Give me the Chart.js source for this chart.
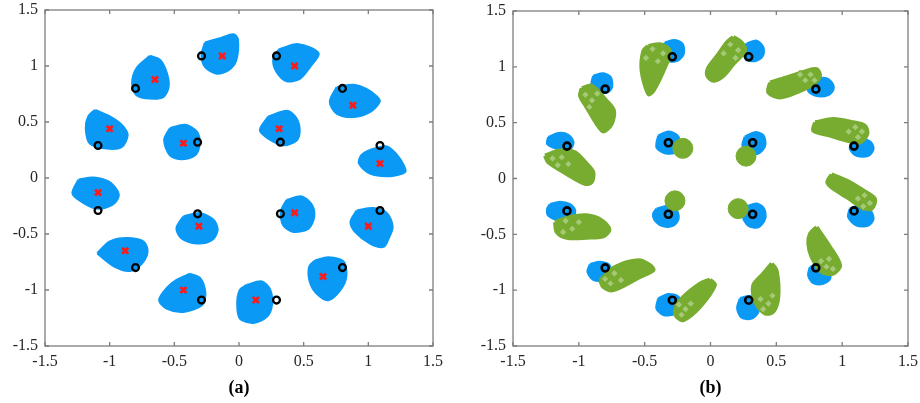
<!DOCTYPE html>
<html>
<head>
<meta charset="utf-8">
<script src="https://cdn.jsdelivr.net/npm/chart.js@4.4.1/dist/chart.umd.min.js"></script>
<style>
  html, body { margin:0; padding:0; background:#fff; }
  #wrap { position:relative; width:920px; height:403px; }
  canvas { position:absolute; top:0; }
</style>
</head>
<body>
<div id="wrap">
  <canvas id="ca" width="460" height="403" style="left:0"></canvas>
  <canvas id="cb" width="460" height="403" style="left:460px"></canvas>
</div>
<script>
// ---------- tick values / labels ----------
const xTickValues = [-1.5, -1, -0.5, 0, 0.5, 1, 1.5];
const xTickLabels = ['-1.5', '-1', '-0.5', '0', '0.5', '1', '1.5'];
const yTickValues = [-1.5, -1, -0.5, 0, 0.5, 1, 1.5];
const yTickLabels = ['-1.5', '-1', '-0.5', '0', '0.5', '1', '1.5'];
const panelTitles = ['(a)', '(b)'];

// ---------- reference constellation (black circles) ----------
const constellation = [
  [-0.29, 1.09], [0.29, 1.09], [-0.8, 0.8], [0.8, 0.8],
  [-1.09, 0.29], [-0.32, 0.32], [0.32, 0.32], [1.09, 0.29],
  [-1.09, -0.29], [-0.32, -0.32], [0.32, -0.32], [1.09, -0.29],
  [-0.8, -0.8], [0.8, -0.8], [-0.29, -1.09], [0.29, -1.09]
];

// ---------- panel (a): cluster centres (red x) ----------
const centresA = [
  [-0.13, 1.09], [0.43, 1.0], [-0.65, 0.88], [0.88, 0.65],
  [-1.0, 0.44], [0.31, 0.44], [-0.43, 0.31], [1.09, 0.13],
  [-1.09, -0.13], [0.43, -0.31], [-0.31, -0.43], [1.0, -0.43],
  [-0.88, -0.65], [0.65, -0.88], [-0.43, -1.0], [0.13, -1.09]
];

// ---------- panel (a): received-sample cloud outlines (blue) ----------
const cloudsA = [
  [[-0.262,1.208],[-0.146,1.247],[-0.043,1.282],[-0.010,1.238],[-0.023,1.053],[-0.082,0.964],[-0.172,0.934],[-0.262,0.994],[-0.288,1.098]],
  [[0.304,1.143],[0.459,1.193],[0.614,1.113],[0.549,0.994],[0.472,0.890],[0.369,0.866],[0.292,0.949],[0.266,1.053]],
  [[-0.688,1.089],[-0.611,1.053],[-0.559,0.934],[-0.546,0.815],[-0.585,0.726],[-0.688,0.711],[-0.791,0.741],[-0.825,0.845],[-0.791,0.979]],
  [[0.756,0.809],[0.885,0.830],[0.988,0.791],[1.065,0.726],[1.086,0.681],[1.014,0.592],[0.885,0.547],[0.756,0.577],[0.704,0.681]],
  [[-1.113,0.607],[-0.997,0.547],[-0.907,0.473],[-0.863,0.384],[-0.907,0.280],[-1.023,0.265],[-1.152,0.309],[-1.183,0.443],[-1.165,0.547]],
  [[0.227,0.547],[0.369,0.598],[0.434,0.547],[0.467,0.443],[0.446,0.339],[0.343,0.294],[0.227,0.354],[0.163,0.428]],
  [[-0.533,0.443],[-0.417,0.473],[-0.327,0.413],[-0.306,0.309],[-0.340,0.205],[-0.443,0.169],[-0.533,0.205],[-0.577,0.339]],
  [[1.014,0.250],[1.143,0.280],[1.220,0.205],[1.271,0.116],[1.284,0.056],[1.168,0.018],[1.014,0.041],[0.929,0.131],[0.949,0.205]],
  [[-1.242,-0.018],[-1.126,0.003],[-1.010,-0.033],[-0.946,-0.107],[-0.933,-0.167],[-0.984,-0.241],[-1.100,-0.271],[-1.216,-0.211],[-1.286,-0.137]],
  [[0.369,-0.197],[0.485,-0.167],[0.562,-0.241],[0.580,-0.345],[0.537,-0.450],[0.421,-0.479],[0.343,-0.420],[0.325,-0.301]],
  [[-0.430,-0.345],[-0.301,-0.316],[-0.198,-0.375],[-0.167,-0.464],[-0.211,-0.554],[-0.327,-0.583],[-0.443,-0.539],[-0.482,-0.450]],
  [[0.911,-0.292],[1.039,-0.271],[1.143,-0.316],[1.186,-0.435],[1.155,-0.539],[1.117,-0.613],[1.014,-0.583],[0.898,-0.479],[0.864,-0.390]],
  [[-1.095,-0.673],[-0.997,-0.569],[-0.868,-0.539],[-0.739,-0.569],[-0.709,-0.658],[-0.752,-0.762],[-0.843,-0.828],[-0.959,-0.792]],
  [[0.588,-0.738],[0.691,-0.709],[0.807,-0.747],[0.828,-0.881],[0.782,-1.000],[0.691,-1.089],[0.601,-1.030],[0.549,-0.926],[0.544,-0.792]],
  [[-0.379,-0.857],[-0.301,-0.896],[-0.262,-1.030],[-0.288,-1.134],[-0.430,-1.194],[-0.559,-1.164],[-0.616,-1.089],[-0.559,-0.985],[-0.482,-0.911]],
  [[0.060,-0.956],[0.176,-0.926],[0.240,-1.000],[0.253,-1.134],[0.214,-1.238],[0.111,-1.292],[0.008,-1.253],[-0.012,-1.119],[0.008,-1.000]]
];

// ---------- panel (b): blue cloud outlines ----------
const cloudsB = [
  [[-0.346,1.217],[-0.270,1.238],[-0.211,1.202],[-0.206,1.113],[-0.257,1.053],[-0.333,1.059],[-0.371,1.143]],
  [[0.275,1.208],[0.351,1.232],[0.401,1.172],[0.396,1.098],[0.338,1.053],[0.270,1.068],[0.249,1.143]],
  [[-0.890,0.919],[-0.814,0.940],[-0.758,0.905],[-0.750,0.815],[-0.789,0.771],[-0.865,0.785],[-0.902,0.845]],
  [[0.781,0.890],[0.870,0.899],[0.920,0.860],[0.933,0.800],[0.895,0.750],[0.806,0.741],[0.743,0.785],[0.756,0.860]],
  [[-1.232,0.369],[-1.156,0.405],[-1.080,0.390],[-1.042,0.324],[-1.067,0.265],[-1.156,0.265],[-1.239,0.309]],
  [[-0.396,0.384],[-0.320,0.419],[-0.252,0.384],[-0.232,0.309],[-0.270,0.235],[-0.346,0.229],[-0.409,0.280]],
  [[0.262,0.375],[0.338,0.413],[0.401,0.384],[0.414,0.294],[0.363,0.226],[0.287,0.235],[0.244,0.294]],
  [[1.072,0.324],[1.148,0.354],[1.216,0.324],[1.237,0.265],[1.199,0.205],[1.110,0.205],[1.059,0.265]],
  [[-1.219,-0.232],[-1.143,-0.211],[-1.067,-0.232],[-1.029,-0.286],[-1.054,-0.360],[-1.143,-0.375],[-1.232,-0.330],[-1.239,-0.271]],
  [[-0.409,-0.271],[-0.320,-0.247],[-0.257,-0.286],[-0.244,-0.360],[-0.282,-0.420],[-0.358,-0.426],[-0.421,-0.375],[-0.434,-0.316]],
  [[0.275,-0.250],[0.351,-0.226],[0.406,-0.271],[0.414,-0.360],[0.363,-0.435],[0.287,-0.420],[0.249,-0.345]],
  [[1.059,-0.271],[1.135,-0.241],[1.211,-0.286],[1.237,-0.360],[1.199,-0.420],[1.110,-0.420],[1.047,-0.345]],
  [[-0.915,-0.768],[-0.839,-0.747],[-0.768,-0.777],[-0.763,-0.866],[-0.814,-0.911],[-0.890,-0.905],[-0.933,-0.836]],
  [[0.756,-0.792],[0.832,-0.777],[0.895,-0.822],[0.908,-0.896],[0.857,-0.941],[0.781,-0.935],[0.743,-0.866]],
  [[-0.396,-1.075],[-0.320,-1.036],[-0.244,-1.060],[-0.232,-1.134],[-0.270,-1.208],[-0.353,-1.223],[-0.409,-1.164]],
  [[0.224,-1.075],[0.300,-1.054],[0.358,-1.104],[0.363,-1.194],[0.313,-1.253],[0.237,-1.244],[0.204,-1.164]]
];

// ---------- panel (b): green streak outlines (outer ring) ----------
const streaksB = [
  [[-0.472,1.187],[-0.384,1.202],[-0.308,1.143],[-0.346,0.994],[-0.434,0.785],[-0.472,0.756],[-0.523,0.964],[-0.510,1.143]],
  [[0.173,1.268],[0.237,1.217],[0.262,1.143],[0.173,1.024],[0.097,0.919],[0.022,0.875],[-0.024,0.919],[-0.016,0.994],[0.060,1.113],[0.123,1.217]],
  [[0.452,0.860],[0.578,0.905],[0.730,0.964],[0.806,0.979],[0.832,0.919],[0.781,0.845],[0.654,0.771],[0.528,0.726],[0.439,0.771]],
  [[-0.978,0.809],[-0.902,0.830],[-0.789,0.696],[-0.733,0.607],[-0.751,0.488],[-0.814,0.422],[-0.864,0.488],[-0.940,0.637],[-0.991,0.741]],
  [[0.794,0.503],[0.933,0.532],[1.085,0.503],[1.173,0.473],[1.191,0.399],[1.135,0.324],[1.034,0.339],[0.908,0.384],[0.781,0.428]],
  [[-1.257,0.205],[-1.143,0.250],[-1.029,0.235],[-0.940,0.131],[-0.890,0.056],[-0.902,-0.033],[-0.953,-0.048],[-1.092,0.041],[-1.232,0.146]],
  [[0.920,0.036],[1.034,-0.018],[1.161,-0.107],[1.249,-0.182],[1.224,-0.271],[1.148,-0.256],[1.034,-0.167],[0.933,-0.092],[0.887,-0.033]],
  [[-1.181,-0.390],[-1.067,-0.345],[-0.940,-0.330],[-0.826,-0.375],[-0.768,-0.458],[-0.814,-0.518],[-0.940,-0.530],[-1.092,-0.530],[-1.168,-0.479]],
  [[0.806,-0.435],[0.908,-0.613],[0.984,-0.777],[0.933,-0.851],[0.844,-0.836],[0.768,-0.703],[0.743,-0.583],[0.756,-0.494]],
  [[-0.839,-0.911],[-0.725,-0.792],[-0.548,-0.732],[-0.459,-0.777],[-0.434,-0.822],[-0.535,-0.881],[-0.738,-1.000],[-0.814,-0.970]],
  [[0.465,-0.762],[0.502,-0.822],[0.515,-1.060],[0.477,-1.194],[0.414,-1.208],[0.338,-1.104],[0.325,-0.955],[0.401,-0.851]],
  [[-0.004,-0.905],[0.034,-0.955],[-0.080,-1.149],[-0.206,-1.268],[-0.257,-1.238],[-0.270,-1.179],[-0.219,-1.075],[-0.080,-0.941]]
];

// ---------- panel (b): sparse hollow-diamond samples at the streak roots ----------
const sparseDiamondsB = [
  [-0.44,1.16],[-0.36,1.12],[-0.49,1.08],[-0.40,1.05],
  [0.15,1.20],[0.21,1.15],[0.10,1.12],[0.19,1.08],
  [0.76,0.93],[0.72,0.88],[0.68,0.93],[0.79,0.88],
  [-0.95,0.75],[-0.90,0.70],[-0.86,0.76],[-0.92,0.64],
  [1.10,0.46],[1.15,0.42],[1.05,0.42],[1.12,0.37],
  [-1.20,0.18],[-1.13,0.19],[-1.16,0.12],[-1.08,0.13],
  [1.17,-0.15],[1.21,-0.22],[1.12,-0.18],[1.16,-0.25],
  [-1.10,-0.38],[-1.05,-0.45],[-1.12,-0.48],[-1.00,-0.39],
  [0.90,-0.72],[0.88,-0.79],[0.93,-0.81],[0.84,-0.74],
  [-0.73,-0.85],[-0.76,-0.94],[-0.68,-0.91],[-0.80,-0.90],
  [0.44,-1.12],[0.40,-1.17],[0.47,-1.05],[0.38,-1.08],
  [-0.19,-1.17],[-0.22,-1.22],[-0.15,-1.12],[-0.24,-1.13]
];

// ---------- panel (b): green inner-ring clusters ----------
const innerGreenB = [[-0.21, 0.27], [0.27, 0.20], [-0.27, -0.20], [0.21, -0.27]];

// ---------- styles ----------
const BLUE = '#0a99f5';
const GREEN = '#77ac30';
const RED = '#ff1a1a';
const SERIF = "'Liberation Serif', 'Times New Roman', serif";

function toXY(arr) { return arr.map(([x, y]) => ({x, y})); }
function cloudDataset(pts, color, bw) {
  return {
    data: toXY(pts.concat([pts[0]])),
    showLine: true, fill: 'shape', tension: 0.3,
    borderColor: color, backgroundColor: color, borderWidth: bw,
    borderJoinStyle: 'round', pointRadius: 0
  };
}
function markerDataset(pts, style, radius, bw, border, bg) {
  return {
    data: toXY(pts), showLine: false,
    pointStyle: style, pointRadius: radius, pointBorderWidth: bw,
    pointBorderColor: border, pointBackgroundColor: bg, pointHoverRadius: radius
  };
}

const framePlugin = {
  id: 'frameTicks',
  afterDraw(chart) {
    const {ctx, chartArea: a, scales: {x, y}} = chart;
    ctx.save();
    ctx.strokeStyle = '#7d7d7d';
    ctx.lineWidth = 1.3;
    ctx.strokeRect(a.left, a.top, a.right - a.left, a.bottom - a.top);
    ctx.beginPath();
    xTickValues.forEach(v => {
      const p = x.getPixelForValue(v);
      ctx.moveTo(p, a.bottom); ctx.lineTo(p, a.bottom - 4);
      ctx.moveTo(p, a.top); ctx.lineTo(p, a.top + 4);
    });
    yTickValues.forEach(v => {
      const p = y.getPixelForValue(v);
      ctx.moveTo(a.left, p); ctx.lineTo(a.left + 4, p);
      ctx.moveTo(a.right, p); ctx.lineTo(a.right - 4, p);
    });
    ctx.stroke();
    ctx.restore();
  }
};

function makeChart(id, datasets, title, leftW, rightPad) {
  return new Chart(document.getElementById(id), {
    type: 'line',
    data: {datasets},
    plugins: [framePlugin],
    options: {
      responsive: false, animation: false, devicePixelRatio: 1, events: [],
      layout: {padding: {left: 0, top: 10, right: rightPad, bottom: 0}},
      plugins: {legend: {display: false}, tooltip: {enabled: false}},
      scales: {
        x: {
          type: 'linear', min: -1.5, max: 1.5,
          afterBuildTicks: s => { s.ticks = xTickValues.map(v => ({value: v})); },
          ticks: {
            callback: (v, i) => xTickLabels[i], autoSkip: false, maxRotation: 0,
            font: {family: SERIF, size: 16}, color: '#262626', padding: 6
          },
          grid: {display: false, drawTicks: false}, border: {display: false},
          title: {display: true, text: title, color: '#000',
                  font: {family: SERIF, size: 18, weight: 'bold'}, padding: {top: 0, bottom: 4}},
          afterFit: s => { s.height = 57; s.paddingLeft = 0; s.paddingRight = 0; }
        },
        y: {
          type: 'linear', min: -1.5, max: 1.5,
          afterBuildTicks: s => { s.ticks = yTickValues.map(v => ({value: v})); },
          ticks: {
            callback: (v, i) => yTickLabels[i], autoSkip: false,
            font: {family: SERIF, size: 16}, color: '#262626', padding: 7
          },
          grid: {display: false, drawTicks: false}, border: {display: false},
          afterFit: s => { s.width = leftW; s.paddingTop = 0; s.paddingBottom = 0; }
        }
      }
    }
  });
}

// datasets listed top-most first (Chart.js draws index 0 last)
const dsA = [
  markerDataset(constellation, 'circle', 3.4, 2.3, '#000', 'rgba(0,0,0,0)'),
  markerDataset(centresA, 'crossRot', 4.3, 2.8, RED, RED),
  ...cloudsA.map(c => cloudDataset(c, BLUE, 2.5))
];
const dsB = [
  markerDataset(constellation, 'circle', 3.5, 2.6, '#000', 'rgba(0,0,0,0)'),
  markerDataset(sparseDiamondsB, 'rectRot', 4, 1.2, GREEN, 'rgba(255,255,255,0.35)'),
  markerDataset(innerGreenB, 'circle', 10, 1, GREEN, GREEN),
  ...streaksB.map(c => cloudDataset(c, GREEN, 4)),
  ...cloudsB.map(c => cloudDataset(c, BLUE, 2.5))
];

makeChart('ca', dsA, panelTitles[0], 45, 27);
makeChart('cb', dsB, panelTitles[1], 53, 12);
</script>
</body>
</html>
